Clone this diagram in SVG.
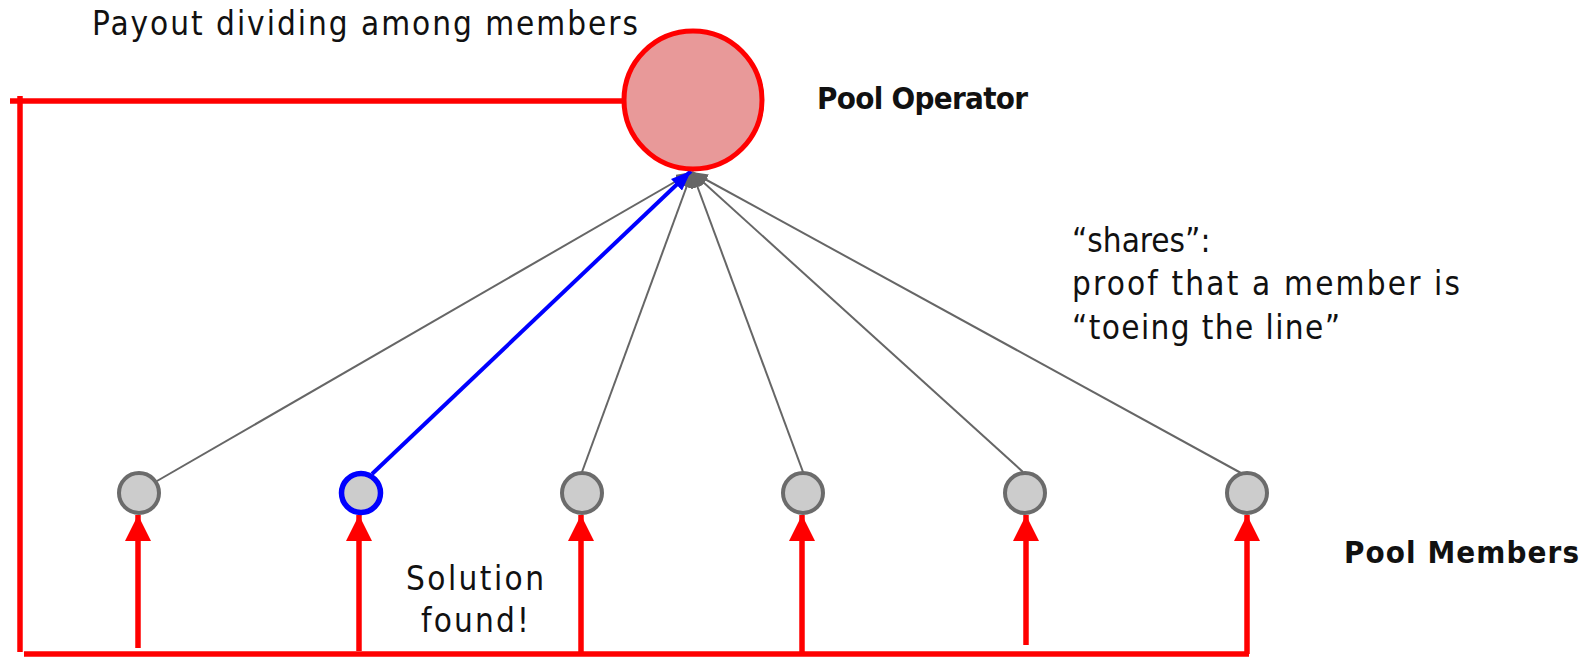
<svg xmlns="http://www.w3.org/2000/svg" width="1585" height="657" viewBox="0 0 1585 657">
<style>
.t{font-family:"DejaVu Sans Condensed","DejaVu Sans","Liberation Sans",sans-serif;font-size:33px;fill:#111}
.b{font-weight:bold;font-size:31px}
.red{stroke:#ff0000;stroke-width:5.5;fill:none}
.gray{stroke:#666;stroke-width:2;fill:none}
.mem{fill:#cccccc;stroke:#6b6b6b;stroke-width:4}
</style>
<defs>
<marker id="ag" markerUnits="userSpaceOnUse" markerWidth="16" markerHeight="12" refX="16" refY="6" orient="auto"><path d="M0,0 L16,6 L0,12 z" fill="#666"/></marker>
<marker id="ab" markerUnits="userSpaceOnUse" markerWidth="20" markerHeight="16" refX="20" refY="8" orient="auto"><path d="M0,0 L20,8 L0,16 z" fill="#0000ff"/></marker>
<marker id="ar" markerUnits="userSpaceOnUse" markerWidth="26" markerHeight="26" refX="26" refY="13" orient="auto"><path d="M0,0 L26,13 L0,26 z" fill="#ff0000"/></marker>
</defs>
<g id="connectors">
<path class="red" d="M10,101 H623"/>
<path class="red" d="M20,96 V652"/>
<path class="red" d="M24,654 H1249"/>
<path class="red" d="M138,648 V515" marker-end="url(#ar)"/>
<path class="red" d="M359,651 V515" marker-end="url(#ar)"/>
<path class="red" d="M581,654 V515" marker-end="url(#ar)"/>
<path class="red" d="M802,654 V515" marker-end="url(#ar)"/>
<path class="red" d="M1026,645 V515" marker-end="url(#ar)"/>
<path class="red" d="M1247,654 V515" marker-end="url(#ar)"/>
<path class="gray" d="M157,481 L692,172" marker-end="url(#ag)"/>
<path class="gray" d="M582,472 L692,172" marker-end="url(#ag)"/>
<path class="gray" d="M803,472 L692,172" marker-end="url(#ag)"/>
<path class="gray" d="M1023,472 L692,172" marker-end="url(#ag)"/>
<path class="gray" d="M1241,473 L692,172" marker-end="url(#ag)"/>
<path d="M372,474 L691,171" stroke="#0000ff" stroke-width="4" fill="none" marker-end="url(#ab)"/>
</g>
<g id="operator">
<circle cx="693" cy="100" r="69" fill="#e89999" stroke="#ff0000" stroke-width="5"/>
<text class="t b" x="817" y="109" textLength="211">Pool Operator</text>
</g>
<g id="payout-label"><text class="t" x="92" y="35" textLength="546">Payout dividing among members</text></g>
<g id="m1"><circle class="mem" cx="139" cy="493" r="20"/></g>
<g id="m2"><circle cx="361" cy="493" r="19.5" fill="#cccccc" stroke="#0000ff" stroke-width="5.5"/></g>
<g id="m3"><circle class="mem" cx="582" cy="493" r="20"/></g>
<g id="m4"><circle class="mem" cx="803" cy="493" r="20"/></g>
<g id="m5"><circle class="mem" cx="1025" cy="493" r="20"/></g>
<g id="m6"><circle class="mem" cx="1247" cy="493" r="20"/></g>
<g id="members-label"><text class="t b" x="1344" y="563" textLength="235">Pool Members</text></g>
<g id="solution-label">
<text class="t" x="406" y="590" textLength="138">Solution</text>
<text class="t" x="421" y="632" textLength="108">found!</text>
</g>
<g id="shares-label">
<text class="t" x="1072" y="252">“shares”:</text>
<text class="t" x="1072" y="295" textLength="388">proof that a member is</text>
<text class="t" x="1072" y="339" textLength="268">“toeing the line”</text>
</g>
</svg>
